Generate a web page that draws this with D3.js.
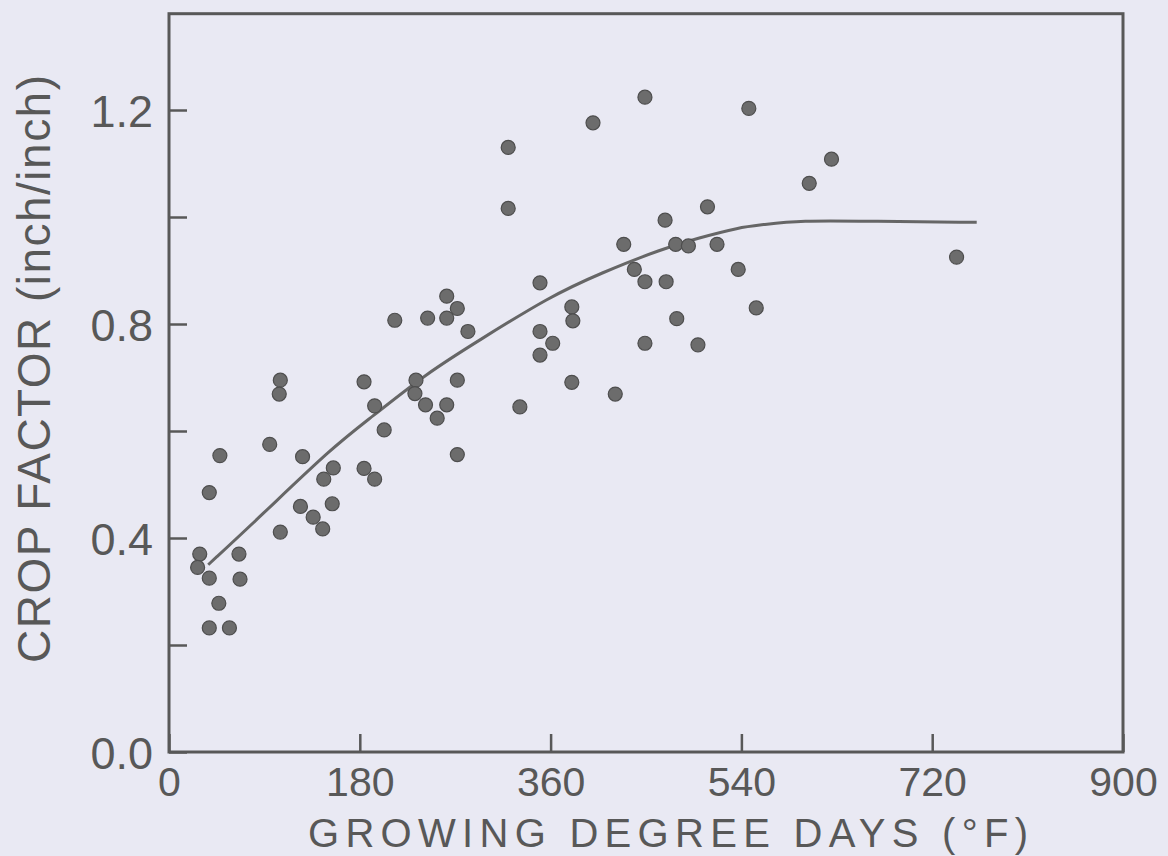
<!DOCTYPE html>
<html>
<head>
<meta charset="utf-8">
<script src="https://cdn.jsdelivr.net/npm/d3@7"></script>
<style>
  body { margin: 0; background: #e9e9f3; }
  svg { display: block; }
</style>
</head>
<body>
<div id="chart"></div>
<script>
// values
const gdd = [262,272,213,244,262,282,105,104,184,233,272,194,232,242,262,253,203,95,48,126,272,155,146,184,194,38,124,136,154,145,105,29,27,66,38,67,47,38,57,
  449,547,400,320,320,508,468,429,478,490,517,537,439,449,469,350,554,380,381,479,350,362,449,499,350,380,421,331,625,604,743];
const cropFactor = [0.852,0.829,0.807,0.811,0.811,0.786,0.695,0.669,0.692,0.695,0.695,0.647,0.670,0.649,0.649,0.624,0.602,0.575,0.554,0.552,0.556,0.531,0.510,0.530,0.510,0.485,0.459,0.439,0.464,0.417,0.411,0.370,0.345,0.370,0.325,0.323,0.278,0.232,0.232,
  1.224,1.203,1.176,1.130,1.016,1.019,0.994,0.949,0.949,0.946,0.949,0.902,0.902,0.879,0.879,0.877,0.830,0.832,0.806,0.810,0.786,0.764,0.764,0.761,0.742,0.691,0.669,0.645,1.108,1.063,0.925];

// fitted curve, traced
const curveGdd = [37,86,155,190,243,293,359,407,466,498,539,558,595,664,762];
const curveCf = [0.350,0.440,0.571,0.624,0.708,0.770,0.851,0.895,0.941,0.960,0.981,0.985,0.994,0.992,0.990];

const xTicks = [0,180,360,540,720,900];
const yTicks = [0,0.2,0.4,0.6,0.8,1.0,1.2];
const yLabelled = [0,0.4,0.8,1.2];
const yTop = 1.38;

const xTitle = "GROWING DEGREE DAYS (°F)";
const yTitle = "CROP FACTOR (inch/inch)";

let width = 1168, height = 856;
let font = "'Liberation Sans', Arial, sans-serif";
let ink = "#585858";

let svg = d3.select("#chart").append("svg")
  .attr("width", width)
  .attr("height", height);

svg.append("rect").attr("width", width).attr("height", height).attr("fill", "#e9e9f3");

let xScale = d3.scaleLinear().domain([0, 900]).range([169, 1123]);
let yScale = d3.scaleLinear().domain([0, 1.2]).range([752, 110]);

// axes, ticks pointing inward
let xAxis = d3.axisBottom(xScale)
  .tickValues(xTicks)
  .tickSizeInner(-18)
  .tickSizeOuter(0)
  .tickPadding(15)
  .tickFormat(d3.format("d"));

let yAxis = d3.axisLeft(yScale)
  .tickValues(yTicks)
  .tickSizeInner(-18)
  .tickSizeOuter(0)
  .tickPadding(16)
  .tickFormat(d => yLabelled.includes(d) ? d3.format(".1f")(d) : "");

let gx = svg.append("g")
  .attr("transform", "translate(0," + yScale(0) + ")")
  .call(xAxis);
let gy = svg.append("g")
  .attr("transform", "translate(" + xScale(0) + ",0)")
  .call(yAxis);

[gx, gy].forEach(g => {
  g.select(".domain").remove();
  g.selectAll("line").attr("stroke", ink).attr("stroke-width", 2.5);
  g.selectAll("text")
    .attr("font-family", font)
    .attr("fill", ink);
});
gx.selectAll("text").attr("font-size", 41);
gy.selectAll("text").attr("font-size", 45).attr("dy", "0.36em");

// frame
svg.append("rect")
  .attr("x", xScale(0))
  .attr("y", yScale(yTop))
  .attr("width", xScale(900) - xScale(0))
  .attr("height", yScale(0) - yScale(yTop))
  .attr("fill", "none")
  .attr("stroke", ink)
  .attr("stroke-width", 3);

// curve
let line = d3.line()
  .x((d, i) => xScale(curveGdd[i]))
  .y(d => yScale(d))
  .curve(d3.curveBasis);

svg.append("path")
  .datum(curveCf)
  .attr("d", line)
  .attr("fill", "none")
  .attr("stroke", "#666")
  .attr("stroke-width", 3);

// observations
svg.append("g").selectAll("circle")
  .data(gdd)
  .join("circle")
  .attr("cx", d => xScale(d))
  .attr("cy", (d, i) => yScale(cropFactor[i]))
  .attr("r", 7)
  .attr("fill", "#6c6c6c")
  .attr("stroke", "#4e4e4e")
  .attr("stroke-width", 1.2);

// axis titles
svg.append("text")
  .attr("x", 308)
  .attr("y", 847)
  .attr("textLength", 720)
  .attr("lengthAdjust", "spacing")
  .attr("font-family", font)
  .attr("font-size", 40)
  .attr("fill", ink)
  .text(xTitle);

svg.append("text")
  .attr("transform", "translate(50,663) rotate(-90)")
  .attr("textLength", 588)
  .attr("lengthAdjust", "spacing")
  .attr("font-family", font)
  .attr("font-size", 46)
  .attr("fill", ink)
  .text(yTitle);
</script>
</body>
</html>
